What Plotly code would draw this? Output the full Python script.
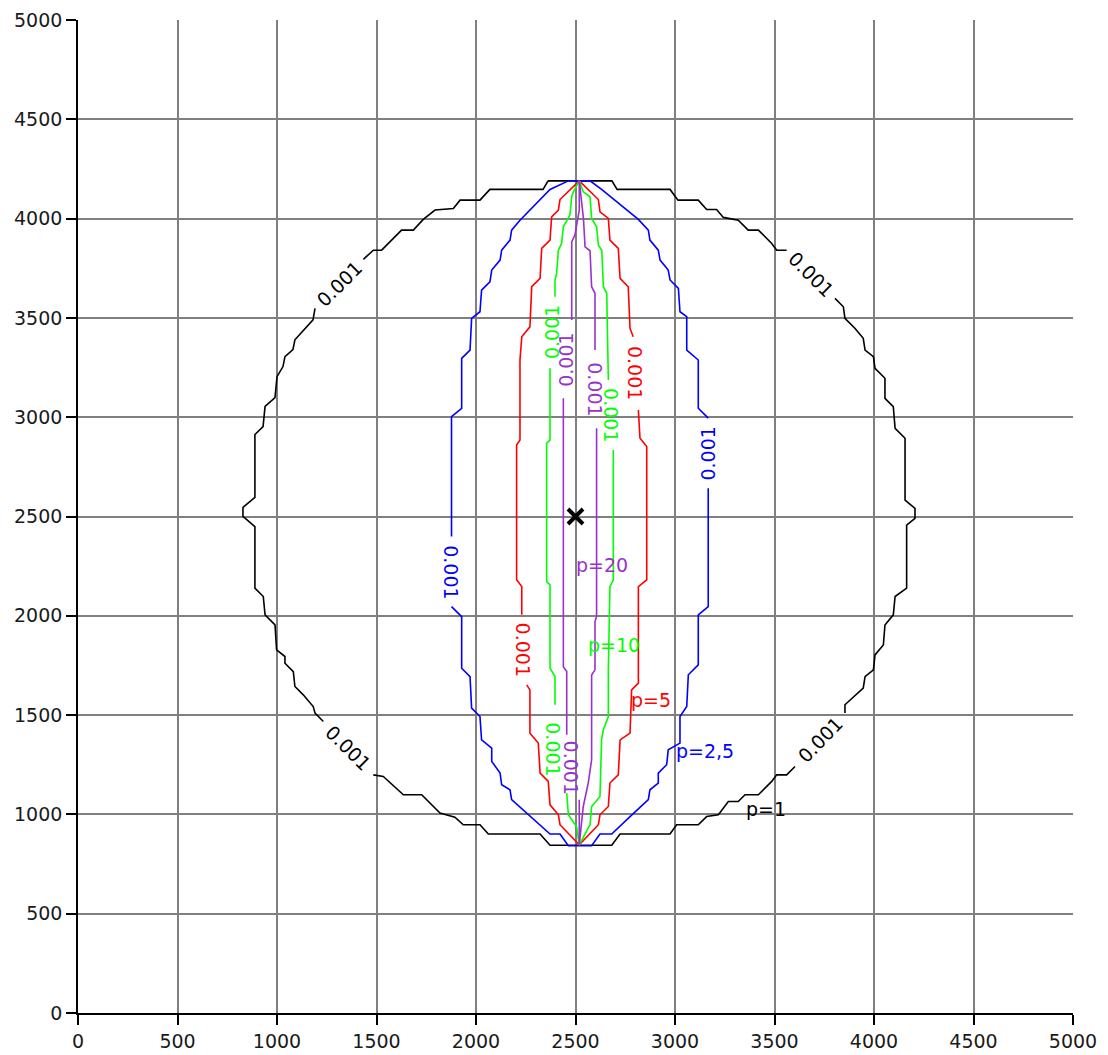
import plotly.graph_objects as go

# Iso-lines of the weight field at level 0.001 for several anisotropy ratios p.
# Each outline is a list of (x, y) vertices; None marks where the line is
# interrupted to make room for its inline level label.
level_text = "0.001"
p_labels = ["p=1", "p=2,5", "p=5", "p=10", "p=20"]

outline_p1 = [
    (2362, 4190), (2683, 4190), (2709, 4147), (2975, 4147), (3015, 4093), (3117, 4093),
    (3159, 4046), (3209, 4046), (3243, 4006), (3318, 3992), (3368, 3942), (3419, 3942),
    (3486, 3875), (3511, 3841), (3561, 3841), None,
    (3804, 3598), (3846, 3556), (3854, 3498), (3905, 3447), (3946, 3397), (3955, 3338),
    (3997, 3305), (4005, 3246), (4055, 3196), (4055, 3095), (4097, 3053), (4106, 2944),
    (4156, 2894), (4156, 2583), (4206, 2541), (4206, 2491), (4164, 2457), (4164, 2139),
    (4106, 2097), (4097, 2005), (4055, 1954), (4047, 1853), (4005, 1803), (3997, 1728),
    (3955, 1694), (3946, 1636), (3854, 1552), (3854, 1510), None,
    (3603, 1241), (3561, 1199), (3511, 1199), (3486, 1166), (3419, 1099), (3352, 1099),
    (3318, 1065), (3268, 1065), (3218, 998), (3159, 989), (3117, 948), (3008, 948),
    (2975, 901), (2724, 901), (2682, 845), (2372, 845), (2322, 901), (2062, 901),
    (2020, 948), (1936, 948), (1894, 986), (1819, 1007), (1727, 1099), (1635, 1099),
    (1534, 1191), (1484, 1199), None,
    (1233, 1468), (1191, 1510), (1182, 1543), (1132, 1602), (1090, 1644), (1082, 1719),
    (1040, 1761), (1040, 1795), (998, 1828), (990, 1954), (940, 2005), (931, 2097),
    (889, 2139), (889, 2449), (829, 2501), (829, 2546), (889, 2596), (889, 2913),
    (930, 2953), (940, 3054), (990, 3099), (1000, 3204), (1030, 3255), (1040, 3305),
    (1080, 3340), (1090, 3390), (1181, 3490), (1191, 3548), None,
    (1434, 3795), (1484, 3841), (1526, 3841), (1585, 3900), (1626, 3942), (1685, 3942),
    (1735, 3996), (1794, 4043), (1836, 4046), (1886, 4051), (1920, 4093), (2020, 4093),
    (2070, 4147), (2337, 4147), (2362, 4190),
]

outline_p2_5 = [
    (2464, 4190), (2573, 4190), (2631, 4147), (2816, 3996), (2866, 3942), (2874, 3892),
    (2916, 3841), (2925, 3791), (2966, 3741), (2975, 3691), (3017, 3649), (3025, 3531),
    (3059, 3506), (3059, 3338), (3117, 3288), (3117, 3045), (3167, 2995), None,
    (3167, 2642), (3167, 2046), (3117, 2005), (3117, 1753), (3067, 1703), (3059, 1543),
    (3025, 1493), (3025, 1359), (2966, 1325), (2958, 1250), (2916, 1208), (2916, 1158),
    (2874, 1124), (2866, 1074), (2774, 989), (2682, 901), (2623, 901), (2581, 842),
    (2464, 842), (2422, 901), (2372, 901), (2271, 989), (2179, 1074), (2171, 1124),
    (2129, 1149), (2121, 1208), (2079, 1267), (2079, 1334), (2028, 1375), (2020, 1493),
    (1978, 1535), (1970, 1694), (1928, 1736), (1928, 1996), (1877, 2046), None,
    (1877, 2399), (1877, 3003), (1928, 3045), (1928, 3296), (1970, 3338), (1978, 3498),
    (2020, 3531), (2028, 3640), (2070, 3682), (2079, 3741), (2121, 3791), (2129, 3841),
    (2171, 3892), (2179, 3942), (2221, 3992), (2372, 4147), (2464, 4190),
]

outline_p5 = [
    (2519, 4190), (2615, 4096), (2623, 4034), (2665, 4001), (2673, 3892), (2715, 3850),
    (2724, 3699), (2765, 3657), (2774, 3447), (2790, 3405), None,
    (2816, 3036), (2824, 2894), (2858, 2852), (2858, 2181), (2816, 2147), (2816, 1661),
    (2782, 1627), (2774, 1409), (2724, 1375), (2715, 1199), (2673, 1158), (2665, 1040),
    (2623, 998), (2615, 948), (2519, 847), (2422, 948), (2414, 998), (2372, 1048),
    (2363, 1166), (2322, 1208), (2313, 1359), (2271, 1409), (2271, 1627), (2255, 1652), None,
    (2230, 2005), (2230, 2147), (2204, 2181), (2204, 2860), (2221, 2885), (2221, 3288),
    (2230, 3405), (2271, 3455), (2280, 3657), (2322, 3699), (2330, 3850), (2372, 3892),
    (2380, 4009), (2414, 4043), (2422, 4096), (2519, 4190),
]

outline_p10 = [
    (2519, 4190), (2539, 4135), (2573, 4110), (2581, 4001), (2606, 3959), (2615, 3866),
    (2632, 3841), (2640, 3657), (2657, 3624), (2665, 3322), (2665, 3187), None,
    (2690, 2835), (2690, 2181), (2673, 2147), (2665, 1728), (2665, 1493), (2640, 1426),
    (2631, 1375), (2623, 1090), (2581, 1040), (2573, 948), (2519, 847), (2506, 936),
    (2464, 998), (2456, 1107), None,
    (2397, 1552), (2397, 1694), (2372, 1736), (2372, 2156), (2355, 2172), (2355, 2869),
    (2372, 2885), (2372, 3246), None,
    (2397, 3607), (2397, 3691), (2405, 3724), (2414, 3841), (2430, 3875), (2439, 3959),
    (2472, 4018), (2481, 4110), (2489, 4135), (2519, 4190),
]

outline_p20 = [
    (2519, 4190), (2540, 4000), (2548, 3858), (2573, 3838), (2581, 3657), (2598, 3624),
    (2598, 3338), None,
    (2606, 2944), (2606, 1996), (2598, 1971), (2598, 1728), (2581, 1702), (2581, 1275),
    (2564, 1158), (2539, 1040), (2519, 847), (2519, 1074), None,
    (2456, 1401), (2456, 1719), (2439, 1744), (2439, 3095), None,
    (2481, 3489), (2481, 3883), (2497, 3917), (2519, 4043), (2519, 4190),
]

centre_point = (2500, 2500)

outlines = [outline_p1, outline_p2_5, outline_p5, outline_p10, outline_p20]
line_colors = ["#000000", "#0000ff", "#ff0000", "#00ff00", "#9932cc"]

FONT = "DejaVu Sans"


def unzip(outline):
    xs = [None if pt is None else pt[0] for pt in outline]
    ys = [None if pt is None else pt[1] for pt in outline]
    return xs, ys


fig = go.Figure()

for outline, color, name in zip(outlines, line_colors, p_labels):
    xs, ys = unzip(outline)
    fig.add_trace(go.Scatter(
        x=xs, y=ys, mode="lines", name=name,
        line=dict(color=color, width=1.6),
        connectgaps=False, hoverinfo="skip", showlegend=False,
    ))

fig.add_trace(go.Scatter(
    x=[centre_point[0]], y=[centre_point[1]], mode="markers",
    marker=dict(symbol="x-thin", size=15, line=dict(color="black", width=4)),
    hoverinfo="skip", showlegend=False,
))

# Inline level labels: (x, y, angle, contour index)
level_label_spots = [
    (1312, 3672, -45, 0), (3682, 3720, 45, 0), (1358, 1334, 45, 0), (3728, 1376, -46, 0),
    (1877, 2222, 90, 1), (3167, 2818, -90, 1),
    (2238, 1828, 90, 2), (2800, 3222, 90, 2),
    (2385, 3427, -90, 3), (2678, 3011, 90, 3), (2390, 1330, 90, 3),
    (2448, 3290, -90, 4), (2598, 3141, 90, 4), (2478, 1235, 90, 4),
]
for x, y, ang, idx in level_label_spots:
    fig.add_annotation(
        x=x, y=y, xref="x", yref="y", text=level_text, showarrow=False,
        textangle=ang, font=dict(family=FONT, size=19, color=line_colors[idx]),
    )

# Ratio labels next to each contour
p_label_spots = [(3457, 1027), (3151, 1320), (2879, 1575), (2693, 1852), (2633, 2255)]
for (x, y), text, color in zip(p_label_spots, p_labels, line_colors):
    fig.add_annotation(
        x=x, y=y, xref="x", yref="y", text=text, showarrow=False,
        font=dict(family=FONT, size=19, color=color),
    )

axis_common = dict(
    range=[0, 5000], tickmode="array",
    tickvals=list(range(0, 5001, 500)),
    showgrid=True, gridcolor="#808080", gridwidth=1.6,
    zeroline=False, showline=True, linecolor="black", linewidth=1.6,
    ticks="outside", ticklen=10, tickwidth=1.6, tickcolor="black",
    tickfont=dict(family=FONT, size=19, color="#1a1a1a"),
    automargin=False, fixedrange=True,
)

fig.update_layout(
    width=1108, height=1055,
    margin=dict(l=78, r=35, t=20, b=42),
    paper_bgcolor="white", plot_bgcolor="white",
    xaxis=dict(**axis_common),
    yaxis=dict(**axis_common),
    showlegend=False,
)

fig.write_html("out.html")
